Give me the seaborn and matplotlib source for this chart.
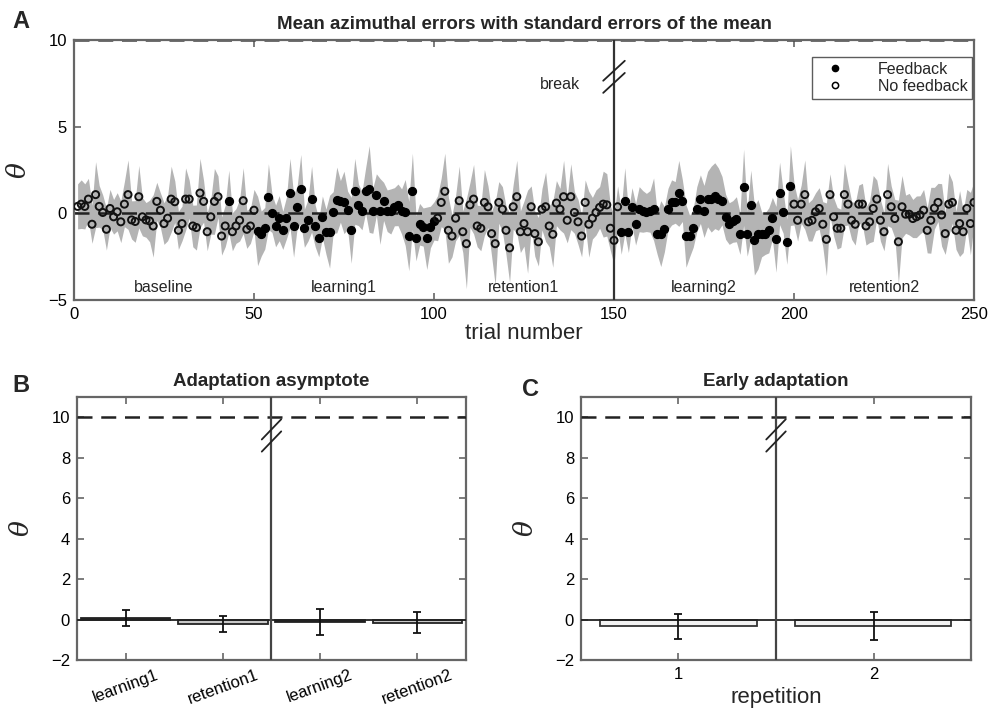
import matplotlib
matplotlib.use("Agg")
import matplotlib.pyplot as plt
import seaborn as sns
import numpy as np
import pandas as pd
from matplotlib.lines import Line2D

sns.set_style("white")
plt.rcParams["font.family"] = ["Liberation Sans", "DejaVu Sans"]
plt.rcParams["mathtext.fontset"] = "dejavuserif"

# ---- panel A: mean azimuthal error per trial ----
mean_err = [
    0.40, 0.53, 0.40, 0.82, -0.63, 1.08, 0.40, 0.05, -0.92, 0.28,
    -0.20, 0.09, -0.49, 0.53, 1.08, -0.38, -0.47, 0.96, -0.20, -0.38,
    -0.44, -0.73, 0.69, 0.18, -0.59, -0.28, 0.82, 0.67, -0.98, -0.59,
    0.82, 0.82, -0.73, -0.82, 1.17, 0.69, -1.06, -0.20, 0.69, 0.96,
    -1.31, -0.73, 0.69, -1.06, -0.73, -0.40, 0.73, -0.92, -0.73, 0.18,
    -1.02, -1.17, -0.86, 0.96, 0.00, -0.73, -0.28, -0.98, -0.28, 1.17,
    -0.73, 0.38, 1.40, -0.86, -0.40, 0.82, -0.73, -1.41, -0.20, -1.06,
    -1.06, 0.05, 0.77, 0.69, 0.63, 0.18, -0.98, 1.27, 0.49, 0.15,
    1.31, 1.40, 0.15, 1.08, 0.11, 0.69, 0.15, 0.11, 0.38, 0.49,
    0.11, 0.05, -1.31, 1.27, -1.44, -0.63, -0.79, -1.44, -0.79, -0.44,
    -0.28, 0.63, 1.27, -0.98, -1.31, -0.28, 0.73, -1.06, -1.75, 0.49,
    0.82, -0.73, -0.86, 0.63, 0.38, -1.17, -1.75, 0.63, 0.24, -0.98,
    -1.99, 0.38, 0.96, -1.06, -0.59, -1.06, 0.38, -1.17, -1.64, 0.24,
    0.38, -0.73, -1.21, 0.59, 0.24, 0.96, -0.40, 0.96, 0.05, -0.49,
    -1.31, 0.63, -0.63, -0.28, 0.05, 0.34, 0.53, 0.49, -0.86, -1.56,
    0.38, -1.06, 0.73, -1.06, 0.38, -0.63, 0.24, 0.11, 0.05, 0.11,
    0.24, -1.17, -1.17, -0.92, 0.24, 0.63, 0.63, 1.15, 0.73, -1.31,
    -1.31, -0.86, 0.24, 0.82, 0.11, 0.82, 0.82, 1.02, 0.82, 0.73,
    -0.20, -0.59, -0.47, -0.34, -1.17, 1.50, -1.17, 0.49, -1.56, -1.21,
    -1.21, -1.17, -0.98, -0.28, -1.50, 1.15, 0.05, -1.64, 1.60, 0.53,
    -0.40, 0.53, 1.08, -0.49, -0.40, 0.09, 0.28, -0.63, -1.50, 1.08,
    -0.20, -0.86, -0.86, 1.08, 0.53, -0.40, -0.63, 0.53, 0.53, -0.73,
    -0.49, 0.28, 0.82, -0.40, -1.06, 1.08, 0.38, -0.30, -1.64, 0.38,
    -0.05, -0.05, -0.30, -0.20, -0.09, 0.18, -0.98, -0.40, 0.30, 0.63,
    -0.09, -1.17, 0.53, 0.63, -0.98, -0.59, -1.06, 0.28, -0.59, 0.63,
]
sem_err = [
    1.3, 1.4, 1.3, 1.2, 1.1, 1.9, 1.2, 1.0, 1.2, 1.1,
    1.0, 1.1, 1.2, 1.3, 2.0, 1.1, 1.2, 1.8, 1.1, 1.0,
    1.2, 1.8, 1.1, 1.0, 1.2, 1.3, 1.9, 1.2, 1.1, 1.0,
    1.8, 1.1, 1.2, 1.3, 2.0, 1.2, 1.1, 1.0, 1.9, 1.2,
    1.1, 1.2, 1.8, 1.1, 1.0, 1.2, 1.9, 1.1, 1.0, 1.2,
    2.0, 1.3, 1.2, 1.9, 1.1, 1.2, 1.3, 1.1, 1.2, 2.0,
    1.8, 1.2, 2.0, 1.1, 1.2, 1.9, 1.2, 1.1, 1.2, 1.3,
    2.1, 1.2, 1.9, 1.2, 1.8, 1.1, 1.9, 1.9, 1.2, 1.1,
    1.3, 2.5, 1.3, 1.2, 1.9, 1.1, 1.2, 1.3, 1.1, 1.2,
    1.3, 1.9, 2.0, 2.2, 1.3, 1.2, 1.1, 1.8, 1.2, 1.1,
    1.3, 1.4, 2.2, 1.9, 1.2, 1.3, 2.0, 1.2, 2.6, 1.3,
    2.0, 1.2, 1.3, 1.9, 1.2, 1.3, 2.4, 1.2, 1.3, 1.4,
    2.0, 1.3, 2.1, 1.2, 1.3, 2.4, 1.2, 1.3, 1.4, 1.2,
    2.0, 1.2, 1.9, 1.3, 1.2, 2.1, 1.3, 1.9, 1.2, 1.3,
    1.2, 1.3, 1.9, 1.2, 1.3, 1.2, 1.9, 1.8, 1.3, 1.4,
    1.2, 1.3, 1.9, 1.2, 1.1, 1.2, 1.3, 1.2, 1.1, 1.2,
    1.8, 1.2, 1.9, 1.3, 1.2, 1.3, 1.2, 1.9, 1.2, 1.8,
    1.2, 1.1, 1.3, 1.4, 1.5, 1.6, 1.9, 1.9, 1.8, 1.4,
    1.3, 1.2, 1.2, 1.3, 1.2, 2.2, 1.3, 2.0, 2.0, 2.0,
    1.3, 1.2, 1.3, 1.2, 1.9, 1.8, 1.2, 1.3, 2.3, 1.2,
    1.2, 1.1, 2.0, 1.1, 1.2, 1.1, 1.2, 1.3, 2.1, 1.2,
    1.1, 1.2, 1.1, 1.8, 1.2, 1.1, 1.2, 1.1, 1.2, 1.1,
    1.2, 1.9, 1.1, 1.2, 1.1, 1.8, 1.2, 1.1, 2.4, 1.8,
    1.1, 1.2, 1.1, 1.2, 1.1, 1.2, 1.3, 1.9, 1.2, 1.1,
    1.8, 1.2, 1.8, 1.2, 1.1, 1.9, 1.2, 1.1, 1.8, 1.2,
]
feedback_blocks = [(43, 43), (51, 100), (152, 199)]
segment_names = ["baseline", "learning1", "retention1", "learning2", "retention2"]
segment_centers = [25, 75, 125, 175, 225]
break_trial = 150
target = 10

# ---- panel B: adaptation asymptote ----
asym_labels = ["learning1", "retention1", "learning2", "retention2"]
asym_mean = [0.06, -0.22, -0.12, -0.17]
asym_sem = [0.40, 0.39, 0.65, 0.52]
asym_colors = ["#1a1a1a", "#c8c8c8", "#1a1a1a", "#c8c8c8"]

# ---- panel C: early adaptation ----
early_labels = ["1", "2"]
early_mean = [-0.34, -0.32]
early_sem = [0.60, 0.70]

trials = np.arange(1, len(mean_err) + 1)
df = pd.DataFrame({"trial": trials, "err": mean_err, "se": sem_err})
df["feedback"] = False
for a, b in feedback_blocks:
    df.loc[(df["trial"] >= a) & (df["trial"] <= b), "feedback"] = True

SPINE = "#666666"


def style_axes(ax):
    for s in ax.spines.values():
        s.set_color(SPINE)
        s.set_linewidth(1.6)
    ax.tick_params(direction="in", length=5, width=1.2, color=SPINE,
                   bottom=True, left=True, top=True, right=True,
                   labelsize=12, labelcolor="black", pad=5)


def break_marks(ax, x, y0, dx, dy, gap):
    for k in range(2):
        yb = y0 + k * gap
        ax.plot([x - dx, x + dx], [yb, yb + dy], color="#222222", lw=1.3,
                clip_on=False, zorder=6)


W, H = 1003, 718
fig = plt.figure(figsize=(W / 100, H / 100), dpi=100)

# ---------------- panel A ----------------
axA = fig.add_axes([74 / W, 1 - 300 / H, 900 / W, 260 / H])
axA.fill_between(df["trial"], df["err"] - df["se"], df["err"] + df["se"],
                 color="#b4b4b4", lw=0, zorder=1)
axA.axhline(0, color="#222222", lw=1.8, ls=(0, (6, 3.5)), zorder=2)
axA.axhline(target, color="#444444", lw=1.8, ls=(0, (6, 3.5)), zorder=2, clip_on=False)
sns.scatterplot(data=df[df["feedback"]], x="trial", y="err", color="black",
                edgecolor="black", s=32, linewidth=1.0, ax=axA, zorder=4)
sns.scatterplot(data=df[~df["feedback"]], x="trial", y="err", color="#111111",
                s=26, linewidth=1.4, ax=axA, zorder=4)
axA.collections[-1].set_facecolor("none")
axA.collections[-1].set_edgecolor("#111111")
axA.axvline(break_trial, color="#333333", lw=1.6, zorder=3)
break_marks(axA, break_trial, 6.95, 3.0, 1.15, 0.7)
axA.text(break_trial - 9.5, 7.45, "break", ha="right", va="center", fontsize=11.5)
for name, c in zip(segment_names, segment_centers):
    axA.text(c, -4.3, name, ha="center", va="center", fontsize=11.5)

axA.set_xlim(0, 250)
axA.set_ylim(-5, 10)
axA.set_xticks(range(0, 251, 50))
axA.set_yticks([-5, 0, 5, 10])
axA.set_xlabel("trial number", fontsize=16, labelpad=1)
axA.set_ylabel(r"$\theta$", fontsize=19, labelpad=12)
axA.set_title("Mean azimuthal errors with standard errors of the mean",
              fontsize=13.5, fontweight="bold", pad=8)
style_axes(axA)
handles = [
    Line2D([], [], ls="", marker="o", ms=4.5, mfc="black", mec="black"),
    Line2D([], [], ls="", marker="o", ms=4.5, mfc="white", mec="black", mew=1.1),
]
leg = axA.legend(handles, ["Feedback", "No feedback"], loc="upper right",
                 bbox_to_anchor=(0.998, 0.935), borderaxespad=0, fontsize=11.5,
                 frameon=True, fancybox=False, edgecolor="#333333",
                 handletextpad=1.6, handlelength=2.2, borderpad=0.3,
                 labelspacing=0.15)
leg.get_frame().set_linewidth(1.0)

# ---------------- panel B ----------------
axB = fig.add_axes([77 / W, 1 - 660 / H, 389 / W, 263 / H])
sns.barplot(x=asym_labels, y=asym_mean, hue=asym_labels, palette=asym_colors,
            legend=False, width=0.92, edgecolor="#222222", linewidth=1.3,
            errorbar=None, ax=axB, zorder=2)
axB.errorbar(range(len(asym_labels)), asym_mean, yerr=asym_sem, fmt="none",
             ecolor="#111111", elinewidth=1.3, capsize=3, capthick=1.3, zorder=5)
axB.axhline(0, color="#222222", lw=1.3, zorder=3)
axB.axhline(target, color="#222222", lw=1.8, ls=(0, (6, 3.5)), zorder=3)
axB.axvline(1.5, color="#444444", lw=1.6, zorder=3)
break_marks(axB, 1.5, 8.3, 0.1, 1.0, 0.6)
axB.set_xlim(-0.5, 3.5)
axB.set_ylim(-2, 11)
axB.set_yticks(range(-2, 11, 2))
axB.set_ylabel(r"$\theta$", fontsize=19, labelpad=12)
axB.set_title("Adaptation asymptote", fontsize=13.5, fontweight="bold", pad=8)
style_axes(axB)
axB.tick_params(axis="x", labelrotation=20)

# ---------------- panel C ----------------
axC = fig.add_axes([581 / W, 1 - 660 / H, 390 / W, 263 / H])
sns.barplot(x=early_labels, y=early_mean, color="#f2f2f2", width=0.8,
            edgecolor="#333333", linewidth=1.3, errorbar=None, ax=axC, zorder=2)
axC.errorbar(range(len(early_labels)), early_mean, yerr=early_sem, fmt="none",
             ecolor="#111111", elinewidth=1.3, capsize=3, capthick=1.3, zorder=5)
axC.axhline(0, color="#222222", lw=1.3, zorder=3)
axC.axhline(target, color="#222222", lw=1.8, ls=(0, (6, 3.5)), zorder=3)
axC.axvline(0.5, color="#444444", lw=1.6, zorder=3)
break_marks(axC, 0.5, 8.3, 0.05, 1.0, 0.6)
axC.set_xlim(-0.5, 1.5)
axC.set_ylim(-2, 11)
axC.set_yticks(range(-2, 11, 2))
axC.set_xlabel("repetition", fontsize=16, labelpad=4)
axC.set_ylabel(r"$\theta$", fontsize=19, labelpad=12)
axC.set_title("Early adaptation", fontsize=13.5, fontweight="bold", pad=8)
style_axes(axC)

fig.text(12 / W, 1 - 22 / H, "A", fontsize=17, fontweight="bold", va="center")
fig.text(12 / W, 1 - 385 / H, "B", fontsize=17, fontweight="bold", va="center")
fig.text(522 / W, 1 - 390 / H, "C", fontsize=17, fontweight="bold", va="center")

fig.savefig("out.png", dpi=100)
plt.close(fig)
